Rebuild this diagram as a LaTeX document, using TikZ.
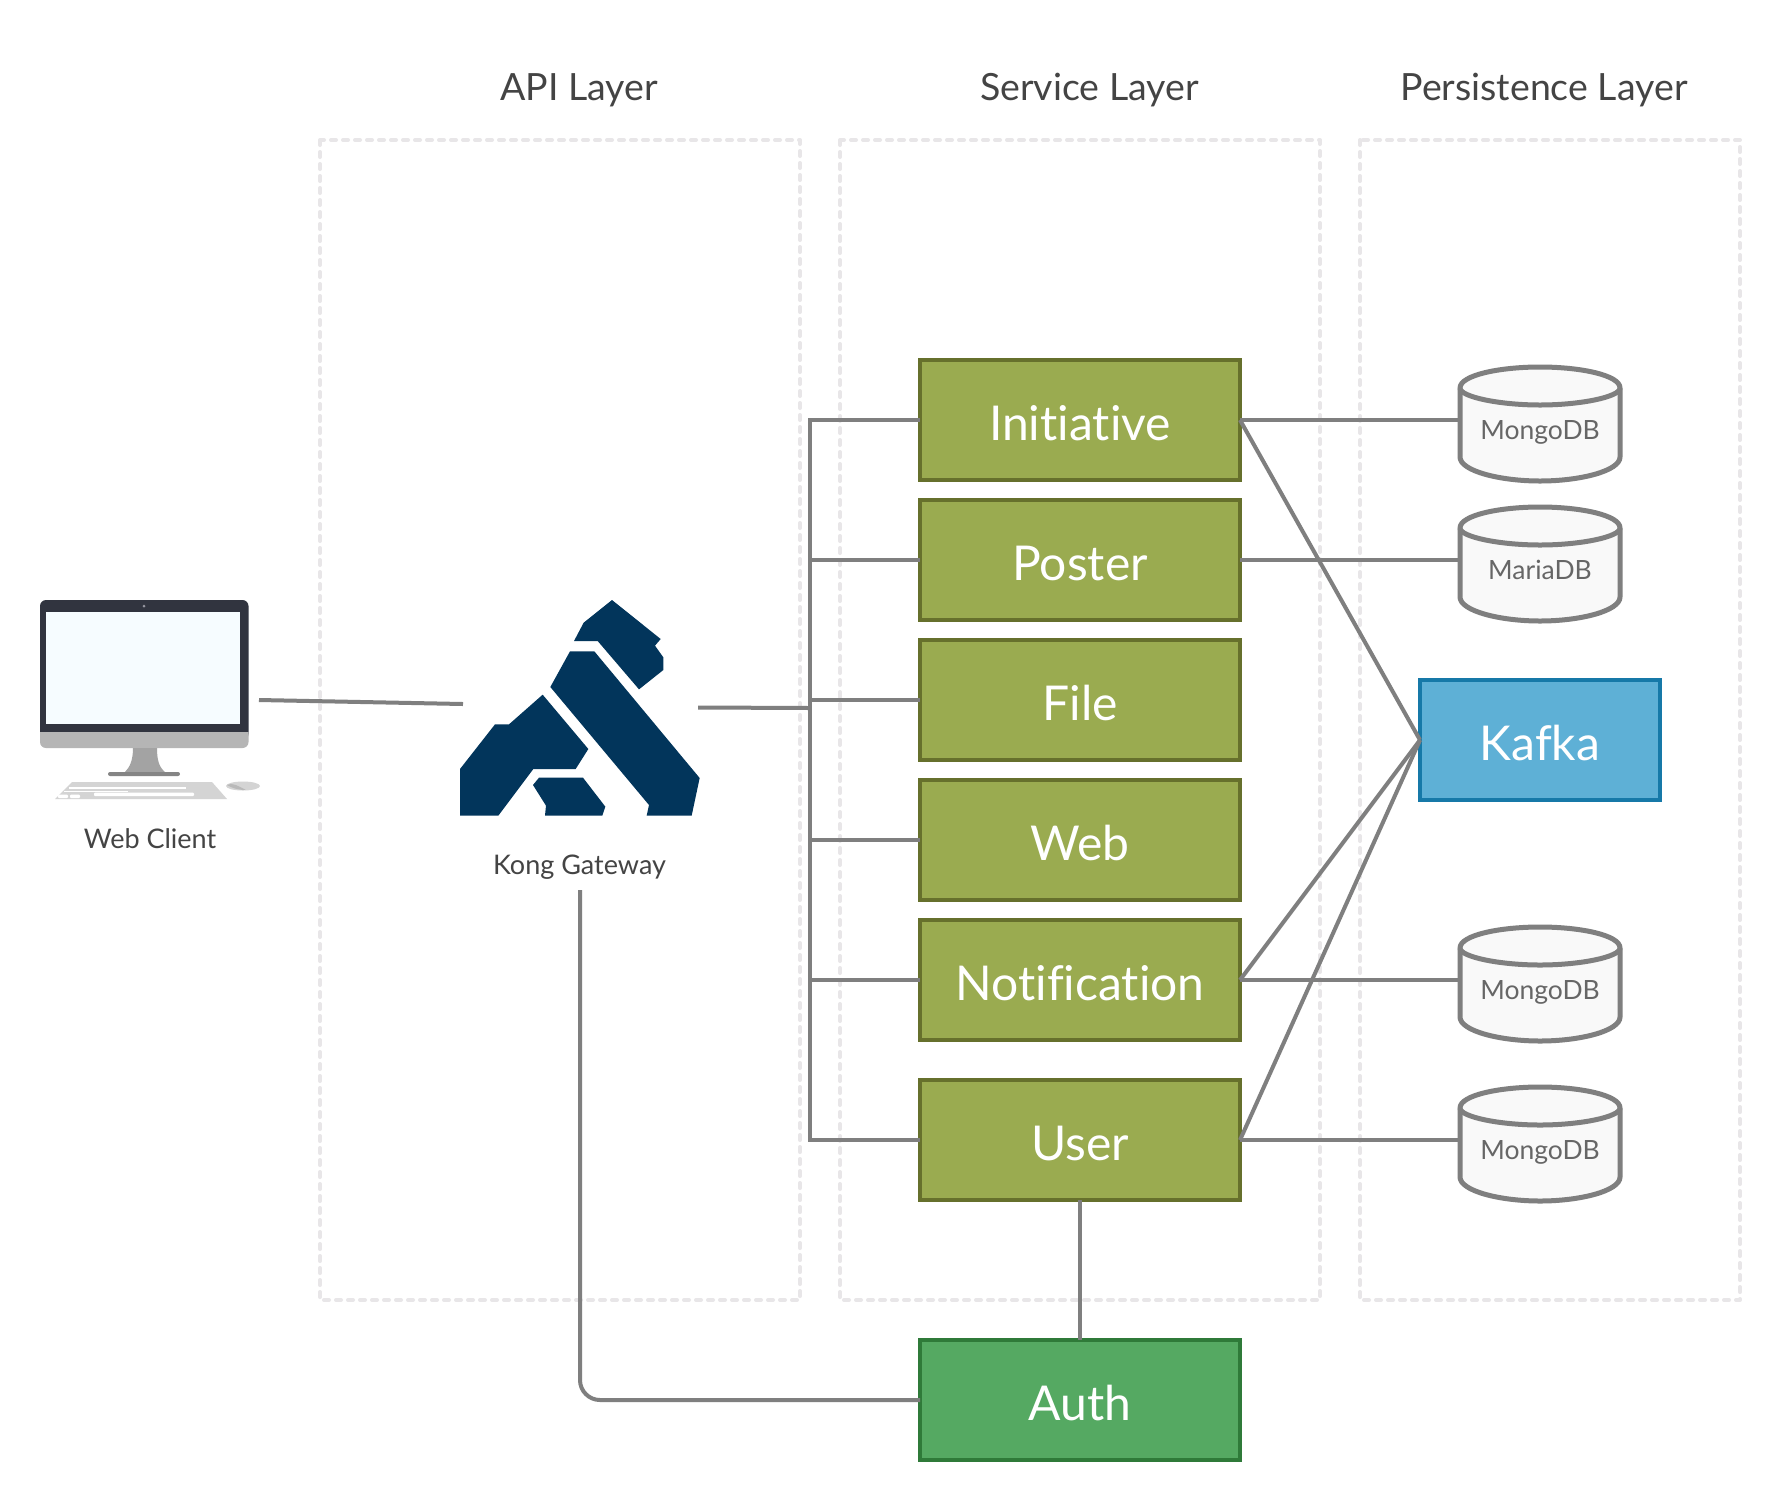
\documentclass[tikz,border=0pt]{standalone}
\usepackage{fontspec}
\setmainfont[Ligatures={NoCommon}]{Lato}
\definecolor{conn}{HTML}{7F7F7F}
\definecolor{lane}{HTML}{E8E6E8}
\definecolor{olive}{HTML}{9AAB50}
\definecolor{olivedk}{HTML}{66702C}
\definecolor{authf}{HTML}{55A962}
\definecolor{authd}{HTML}{2F7A39}
\definecolor{kafkaf}{HTML}{5EB0D6}
\definecolor{kafkad}{HTML}{1679A8}
\definecolor{kong}{HTML}{02355B}
\definecolor{ink}{HTML}{444444}
\definecolor{dbink}{HTML}{666666}
\definecolor{dbfill}{HTML}{F9F9F9}
\definecolor{bezel}{RGB}{49,52,63}
\definecolor{chin}{RGB}{181,181,181}
\definecolor{screenc}{RGB}{246,252,255}
\definecolor{camc}{RGB}{150,150,160}
\definecolor{standc}{RGB}{163,163,163}
\definecolor{basec}{RGB}{133,133,133}
\definecolor{keyc}{RGB}{212,212,212}
\definecolor{mousec}{RGB}{185,185,185}
\tikzset{
  x=1pt,y=-1pt,
  lanebox/.style={draw=lane,line width=4pt,dash pattern=on 5pt off 7pt,line cap=round,line join=round},
  conn/.style={draw=conn,line width=4pt},
  svc/.style={draw,line width=4pt,minimum width=320pt,minimum height=120pt,inner sep=0pt,outer sep=0pt,text=white,font=\fontsize{48}{58}\selectfont,anchor=north west,text height=40pt,text depth=0pt},
  oliveb/.style={svc,fill=olive,draw=olivedk},
  authb/.style={svc,fill=authf,draw=authd},
  kafkab/.style={svc,fill=kafkaf,draw=kafkad,minimum width=240pt},
  dbn/.style={minimum width=160pt,minimum height=114pt,inner sep=0pt,outer sep=0pt,anchor=north west,text=dbink,font=\fontsize{26.5}{32}\selectfont,text depth=0pt,text height=30pt},
  head/.style={text=ink,font=\fontsize{37.5}{45}\selectfont,inner sep=0pt,text height=26pt,text depth=0pt},
  capt/.style={text=ink,font=\fontsize{27}{33}\selectfont,inner sep=0pt,text height=20pt,text depth=0pt},
  dbshape/.style={fill=dbfill,draw=conn,line width=5pt,line join=round},
  logo/.style={fill=kong,draw=none},
}
\newcommand{\dbcyl}[1]{%
  \path[dbshape] (1460,#1+21) .. controls (1460,#1+8) and (1500,#1) .. (1540,#1)
     .. controls (1580,#1) and (1620,#1+8) .. (1620,#1+21) -- (1620,#1+90)
     .. controls (1620,#1+104) and (1580,#1+114) .. (1540,#1+114)
     .. controls (1500,#1+114) and (1460,#1+104) .. (1460,#1+90) -- cycle;
  \path[draw=conn,line width=5pt] (1460,#1+21) .. controls (1460,#1+30) and (1500,#1+38) .. (1540,#1+38)
     .. controls (1580,#1+38) and (1620,#1+30) .. (1620,#1+21);
}
\begin{document}
\begin{tikzpicture}
\useasboundingbox (0,0) rectangle (1780,1500);
\fill[white] (0,0) rectangle (1780,1500);
% lanes
\draw[lanebox] (320,140) rectangle (800,1300);
\draw[lanebox] (840,140) rectangle (1320,1300);
\draw[lanebox] (1360,140) rectangle (1740,1300);
\node[head] (hapi) at (579,87) {API Layer};
\node[head] (hsvc) at (1089.5,87) {Service Layer};
\node[head] (hper) at (1544,87) {Persistence Layer};
% cylinders
\dbcyl{367}\dbcyl{507}\dbcyl{927}\dbcyl{1087}
\node[dbn] (dba) at (1460,367) {MongoDB};
\node[dbn] (dbb) at (1460,507) {MariaDB};
\node[dbn] (dbc) at (1460,927) {MongoDB};
\node[dbn] (dbd) at (1460,1087) {MongoDB};
% service boxes
\node[oliveb] (init) at (920,360) {Initiative};
\node[oliveb] (post) at (920,500) {Poster};
\node[oliveb] (file) at (920,640) {File};
\node[oliveb] (web) at (920,780) {Web};
\node[oliveb] (noti) at (920,920) {Notification};
\node[oliveb] (user) at (920,1080) {User};
\node[authb] (auth) at (920,1340) {Auth};
\node[kafkab] (kafka) at (1420,680) {Kafka};
% monitor
\fill[bezel, rounded corners=6pt] (40,740) -- (40,600) -- (248.5,600) -- (248.5,740) -- cycle;
\fill[chin] (40,732) -- (248.5,732) -- (248.5,742) arc[start angle=0,end angle=-90,radius=6pt] -- (46,748) arc[start angle=-90,end angle=-180,radius=6pt] -- cycle;
\fill[screenc] (46,612) rectangle (240,724);
\fill[camc] (144,606) circle[radius=1.5pt];
\fill[standc] (133,748) -- (157,748) .. controls (157,760) and (159,767) .. (165,772) -- (125,772) .. controls (130,767) and (133,760) .. (133,748) -- cycle;
\fill[basec,rounded corners=2pt] (108,772) rectangle (180,776);
\fill[keyc] (72,782) -- (212,782) -- (227,799) -- (55,799) -- cycle;
\fill[white] (69,787) rectangle (186,788.5);
\fill[white] (64,790.5) rectangle (128,792);
\fill[white,rounded corners=1pt] (94,792.5) rectangle (194,796);
\fill[white,rounded corners=1pt] (58,794.5) rectangle (68,798);
\fill[white,rounded corners=1pt] (70,794.5) rectangle (80,798);
\fill[keyc] (243,786) ellipse[x radius=17pt,y radius=4.5pt];
\fill[mousec] (227,785) .. controls (232,782) and (238,786) .. (246,790) .. controls (238,790) and (232,788) .. (227,785) -- cycle;
\node[capt] (webc) at (150,838) {Web Client};
% kong logo
\begin{scope}[shift={(440,580)},scale=1/3]
\path[logo] (516,60)--(662,177)--(645,197)--(670,232)--(670,270)--(597,328)--(473,183)--(402,183)--(431,128)--cycle;
\path[logo] (390,214)--(463,214)--(779,594)--(755,707)--(620,707)--(627,675)--(331,321)--cycle;
\path[logo] (308,344)--(445,507)--(407,567)--(280,567)--(175,707)--(60,707)--(60,567)--(165,433)--(207,433)--cycle;
\path[logo] (297,593)--(429,593)--(496,680)--(487,707)--(315,707)--(318,677)--(279,615)--cycle;
\end{scope}
\node[capt] (kongl) at (579.5,864) {Kong Gateway};
% connector ends
\coordinate (webout) at (259,700);
\coordinate (kongin) at (463,704);
\coordinate (kongout) at (698,707.5);
\coordinate (bus) at (810,708);
\coordinate (kongdown) at (580,890);
% connectors
\draw[conn] (webout) -- (kongin);
\draw[conn] (kongout) -- (bus);
\draw[conn] (init.west) -| (bus);
\draw[conn] (post.west) -- (post.west -| bus);
\draw[conn] (file.west) -- (file.west -| bus);
\draw[conn] (web.west) -- (web.west -| bus);
\draw[conn] (noti.west) -- (noti.west -| bus);
\draw[conn] (user.west) -| (bus);
\draw[conn] (init.east) -- (init.east -| dba.west);
\draw[conn] (post.east) -- (post.east -| dbb.west);
\draw[conn] (noti.east) -- (noti.east -| dbc.west);
\draw[conn] (user.east) -- (user.east -| dbd.west);
\draw[conn] (init.east) -- (kafka.west);
\draw[conn] (noti.east) -- (kafka.west);
\draw[conn] (user.east) -- (kafka.west);
\draw[conn] (user.south) -- (auth.north);
\draw[conn,rounded corners=20pt] (kongdown) |- (auth.west);
\end{tikzpicture}
\end{document}
